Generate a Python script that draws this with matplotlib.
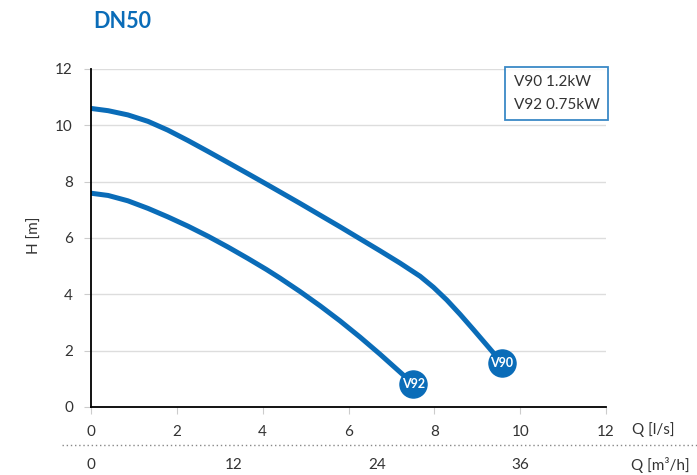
import matplotlib
matplotlib.use("Agg")
import matplotlib.pyplot as plt

plt.rcParams['font.family'] = ['Lato', 'DejaVu Sans']

# datos (Q en l/s, H en m)
q_v90 = [0, 0.40, 0.86, 1.33, 1.79, 2.26, 2.73, 3.19, 3.66, 4.09, 4.40, 4.87,
         5.34, 5.80, 6.27, 6.73, 7.20, 7.67, 7.98, 8.29, 8.60, 8.91, 9.22, 9.45, 9.57]
h_v90 = [10.60, 10.52, 10.37, 10.14, 9.83, 9.46, 9.07, 8.68, 8.28, 7.91, 7.64, 7.23,
         6.81, 6.40, 5.97, 5.55, 5.11, 4.64, 4.25, 3.80, 3.29, 2.75, 2.20, 1.79, 1.57]
q_v92 = [0, 0.40, 0.86, 1.33, 1.79, 2.26, 2.73, 3.19, 3.66, 4.09, 4.40, 4.87,
         5.34, 5.80, 6.27, 6.73, 7.20, 7.36, 7.51]
h_v92 = [7.59, 7.51, 7.32, 7.05, 6.75, 6.42, 6.06, 5.68, 5.27, 4.88, 4.58, 4.10,
         3.59, 3.06, 2.48, 1.88, 1.24, 1.02, 0.82]

x_ticks = [0, 2, 4, 6, 8, 10, 12]
y_ticks = [0, 2, 4, 6, 8, 10, 12]
m3h_ticks = [0, 12, 24, 36]
legend_labels = ["V90 1.2kW", "V92 0.75kW"]
tags = ["V90", "V92"]

azul = "#0a6cb8"
gris = "#333333"

fig = plt.figure(figsize=(6.97, 4.75), dpi=100)
ax = fig.add_axes([91/697, 1-407/475, 515/697, 338/475])

ax.set_xlim(0, 12)
ax.set_ylim(0, 12)
ax.set_yticks(y_ticks)
ax.set_xticks(x_ticks)
ax.grid(axis='y', color='#dddddd', lw=1)
ax.set_axisbelow(True)
for s in ['top', 'right']:
    ax.spines[s].set_visible(False)
ax.spines['left'].set_color('black')
ax.spines['bottom'].set_color('black')
ax.spines['left'].set_linewidth(1.3)
ax.spines['bottom'].set_linewidth(1.3)
ax.tick_params(colors='#cccccc', labelcolor=gris, labelsize=11, length=5, pad=8)

l1, = ax.plot(q_v90, h_v90, color=azul, lw=3.6, solid_capstyle='round',
              solid_joinstyle='round', label=legend_labels[0])
l2, = ax.plot(q_v92, h_v92, color=azul, lw=3.6, solid_capstyle='round',
              solid_joinstyle='round', label=legend_labels[1])

for q, h, t in [(q_v90[-1], h_v90[-1], tags[0]), (q_v92[-1], h_v92[-1], tags[1])]:
    ax.plot(q, h, 'o', color=azul, ms=19.5, zorder=5, clip_on=False)
    ax.text(q, h, t, color='white', fontsize=9, fontweight='bold',
            ha='center', va='center', zorder=6)

leg = ax.legend(handles=[l1, l2], loc='upper right', bbox_to_anchor=(1.004, 1.006),
                handlelength=0, handletextpad=0, fancybox=False, frameon=True,
                fontsize=11, labelspacing=0.55, borderpad=0.55, borderaxespad=0)
leg.get_frame().set_edgecolor(azul)
leg.get_frame().set_linewidth(1.3)
for h in leg.legend_handles:
    h.set_visible(False)
for t in leg.get_texts():
    t.set_color(gris)

fig.text(35/697, 1-235/475, "H [m]", color=gris, fontsize=11, rotation=90,
         ha='center', va='center')

ax.text(12.6, -0.55, "Q [l/s]", color=gris, fontsize=11, ha='left', va='top',
        clip_on=False)

# segundo eje en m3/h
fig.add_artist(plt.Line2D([62/697, 1], [1-445/475, 1-445/475], color='#888888',
                          lw=1, ls=(0, (1, 2)), transform=fig.transFigure))
for m in m3h_ticks:
    xq = m / 3.6
    xf = (91 + xq * 515/12) / 697
    fig.text(xf, 1-465/475, str(m), color=gris, fontsize=11, ha='center', va='center')
fig.text(631/697, 1-465/475, "Q [m³/h]", color=gris, fontsize=11, ha='left', va='center')

fig.text(93/697, 1-22/475, "DN50", color=azul, fontsize=15.5, fontweight='bold',
         ha='left', va='center')

fig.savefig("out.png", dpi=100)
